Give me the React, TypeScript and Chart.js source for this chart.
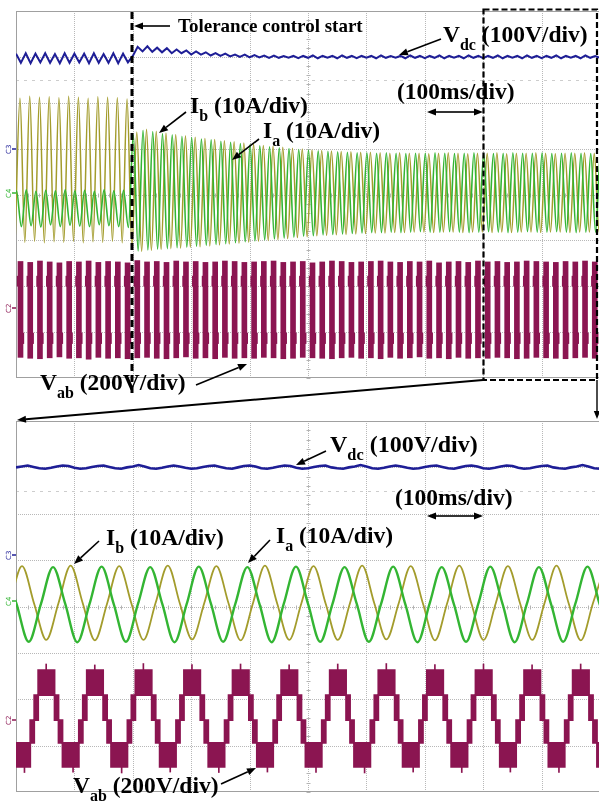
import React, { useEffect, useRef } from 'react';
import { Chart, registerables } from 'chart.js';

Chart.register(...registerables);

// ================= DATA (x in time divisions 0..10, y in vertical divisions -4..4) =================

// ---- top panel (100 ms/div, 60 Hz: half period = 1/12 div) ----
const TOP_HALF_STEP = 1 / 12;
const TOP_PERIOD = 1 / 6;

const VDC_TOP_T0 = 0;
const vdcTop = [
  3.07, 2.87, 3.08, 2.86, 3.07, 2.88, 3.08, 2.87, 3.06, 2.86, 3.08, 2.87,
  3.07, 2.88, 3.07, 2.86, 3.08, 2.87, 3.06, 2.87, 3.08, 2.86, 3.07, 2.88,
  3.02, 3.22, 3.12, 3.23, 3.11, 3.20, 3.10, 3.19, 3.08, 3.16, 3.08, 3.14,
  3.05, 3.12, 3.05, 3.10, 3.03, 3.08, 3.02, 3.07, 3.01, 3.05, 3.00, 3.05,
  2.99, 3.04, 2.99, 3.03, 2.98, 3.03, 2.98, 3.02, 2.98, 3.02, 2.97, 3.02,
  2.98, 3.03, 2.97, 3.02, 2.98, 3.02, 2.97, 3.03, 2.98, 3.02, 2.97, 3.02,
  2.98, 3.02, 2.97, 3.03, 2.98, 3.02, 2.98, 3.02, 2.97, 3.03, 2.98, 3.02,
  2.97, 3.02, 2.98, 3.03, 2.97, 3.02, 2.98, 3.02, 2.97, 3.03, 2.98, 3.02,
  2.97, 3.02, 2.98, 3.03, 2.97, 3.02, 2.98, 3.02, 2.97, 3.03, 2.98, 3.02,
  2.97, 3.02, 2.98, 3.03, 2.97, 3.02, 2.98, 3.02, 2.97, 3.03, 2.98, 3.02,
  2.98,
];

const IB_TOP_T0 = -0.015;
const ibTop = [
  -1.00, 2.10, -1.04, 2.14, -1.02, 2.12, -1.05, 2.13, -1.03, 2.11, -1.04, 2.14,
  -1.02, 2.12, -1.05, 2.10, -1.03, 2.13, -1.04, 2.12, -1.02, 2.11, -1.05, 2.08,
  -1.12, 1.36, -1.24, 1.42, -1.22, 1.38, -1.20, 1.34, -1.18, 1.31, -1.17, 1.28,
  -1.15, 1.25, -1.14, 1.22, -1.12, 1.20, -1.10, 1.17, -1.08, 1.15, -1.06, 1.12,
  -1.04, 1.10, -1.02, 1.07, -1.00, 1.05, -0.98, 1.03, -0.96, 1.01, -0.94, 0.99,
  -0.92, 0.97, -0.90, 0.96, -0.89, 0.95, -0.88, 0.94, -0.87, 0.93, -0.86, 0.92,
  -0.85, 0.92, -0.84, 0.91, -0.84, 0.90, -0.83, 0.91, -0.83, 0.90, -0.82, 0.90,
  -0.82, 0.89, -0.83, 0.90, -0.82, 0.91, -0.82, 0.90, -0.83, 0.89, -0.82, 0.90,
  -0.82, 0.90, -0.83, 0.91, -0.82, 0.89, -0.83, 0.90, -0.82, 0.90, -0.82, 0.91,
  -0.83, 0.90, -0.82, 0.89, -0.82, 0.90, -0.83, 0.90, -0.82, 0.91, -0.82, 0.90,
  -0.82, 0.90,
];

const IA_TOP_T0 = -0.075;
const iaTop = [
  -0.66, 0.08, -0.70, 0.10, -0.68, 0.07, -0.71, 0.09, -0.66, 0.08, -0.70, 0.10,
  -0.67, 0.08, -0.69, 0.09, -0.70, 0.07, -0.66, 0.10, -0.68, 0.08, -0.70, 0.09,
  -0.72, 1.30, -1.23, 1.40, -1.21, 1.37, -1.19, 1.33, -1.18, 1.30, -1.16, 1.27,
  -1.15, 1.24, -1.13, 1.21, -1.11, 1.19, -1.09, 1.16, -1.07, 1.14, -1.05, 1.11,
  -1.03, 1.09, -1.01, 1.06, -0.99, 1.04, -0.97, 1.02, -0.95, 1.00, -0.93, 0.98,
  -0.91, 0.97, -0.90, 0.95, -0.88, 0.94, -0.87, 0.93, -0.86, 0.92, -0.85, 0.91,
  -0.84, 0.91, -0.83, 0.90, -0.83, 0.91, -0.82, 0.90, -0.83, 0.89, -0.82, 0.90,
  -0.81, 0.90, -0.82, 0.91, -0.82, 0.90, -0.81, 0.89, -0.82, 0.90, -0.83, 0.91,
  -0.82, 0.90, -0.81, 0.89, -0.82, 0.90, -0.83, 0.91, -0.82, 0.90, -0.81, 0.90,
  -0.82, 0.91, -0.82, 0.89, -0.81, 0.90, -0.82, 0.91, -0.83, 0.90, -0.82, 0.89,
  -0.82, 0.90, -0.81,
];

const VAB_TOP_X0 = 0.077;
const vabTopHi = [
  -1.46, -1.48, -1.45, -1.47, -1.49, -1.46, -1.47, -1.45, -1.48, -1.46, -1.47, -1.49,
  -1.44, -1.47, -1.46, -1.48, -1.45, -1.47, -1.46, -1.48, -1.47, -1.45, -1.46, -1.48,
  -1.47, -1.46, -1.45, -1.48, -1.47, -1.46, -1.49, -1.47, -1.45, -1.46, -1.48, -1.47,
  -1.46, -1.45, -1.47, -1.48, -1.46, -1.47, -1.45, -1.49, -1.47, -1.46, -1.48, -1.45,
  -1.47, -1.46, -1.48, -1.47, -1.45, -1.46, -1.47, -1.48, -1.46, -1.47, -1.45, -1.47,
];
const vabTopLo = [
  -3.55, -3.57, -3.58, -3.56, -3.54, -3.57, -3.56, -3.59, -3.55, -3.57, -3.56, -3.58,
  -3.56, -3.55, -3.57, -3.58, -3.56, -3.54, -3.57, -3.56, -3.58, -3.55, -3.57, -3.56,
  -3.57, -3.55, -3.56, -3.58, -3.57, -3.55, -3.56, -3.57, -3.58, -3.56, -3.55, -3.57,
  -3.56, -3.58, -3.55, -3.57, -3.56, -3.54, -3.57, -3.56, -3.58, -3.55, -3.57, -3.56,
  -3.57, -3.55, -3.56, -3.58, -3.57, -3.55, -3.56, -3.57, -3.58, -3.56, -3.55, -3.57,
];
// small step blobs seen beside each top-panel V_ab stroke (upper and lower shoulders)
const vabTopShoulderHi = [-1.78, -2.00];
const vabTopShoulderLo = [-3.02, -3.25];

// ---- bottom panel (zoomed, quarter period = 0.208 div) ----
const BOT_QUARTER_STEP = 0.208;

const VDC_BOT_T0 = 0;
const VDC_BOT_STEP = 0.1;
const vdcBot = [
  3.00, 3.02, 3.04, 3.01, 2.98, 2.97, 2.99, 3.02, 3.04, 3.03,
  2.99, 2.97, 2.98, 3.01, 3.03, 3.04, 3.01, 2.98, 2.97, 3.00,
  3.02, 3.05, 3.02, 2.98, 2.97, 2.99, 3.02, 3.04, 3.02, 2.99,
  2.97, 2.98, 3.01, 3.03, 3.04, 3.01, 2.98, 2.97, 3.00, 3.03,
  3.04, 3.02, 2.98, 2.97, 2.99, 3.02, 3.04, 3.03, 2.99, 2.97,
  2.98, 3.01, 3.03, 3.04, 3.00, 2.98, 2.97, 3.00, 3.02, 3.05,
  3.02, 2.98, 2.97, 2.99, 3.02, 3.04, 3.02, 2.99, 2.97, 2.98,
  3.01, 3.03, 3.04, 3.01, 2.98, 2.97, 3.00, 3.03, 3.04, 3.02,
  2.98, 2.97, 2.99, 3.02, 3.04, 3.03, 2.99, 2.97, 2.98, 3.01,
  3.03, 3.04, 3.00, 2.98, 2.97, 3.00, 3.02, 3.05, 3.02, 2.98,
  2.97,
];

const IB_BOT_T0 = -0.105;
const ibBot = [
  0.07, 0.87, 0.06, -0.72, 0.07, 0.88, 0.07, -0.73, 0.06, 0.87, 0.07, -0.72,
  0.08, 0.88, 0.06, -0.71, 0.07, 0.87, 0.07, -0.73, 0.06, 0.88, 0.07, -0.72,
  0.07, 0.87, 0.06, -0.72, 0.07, 0.88, 0.07, -0.71, 0.06, 0.87, 0.07, -0.73,
  0.07, 0.88, 0.06, -0.72, 0.07, 0.87, 0.07, -0.72, 0.06, 0.88, 0.07, -0.73,
  0.07, 0.87,
];

const IA_BOT_T0 = -0.198;
const iaBot = [
  0.86, 0.05, -0.76, 0.05, 0.85, 0.06, -0.77, 0.05, 0.86, 0.05, -0.76, 0.06,
  0.85, 0.05, -0.77, 0.05, 0.86, 0.06, -0.76, 0.05, 0.85, 0.05, -0.77, 0.06,
  0.86, 0.05, -0.76, 0.05, 0.85, 0.06, -0.76, 0.05, 0.86, 0.05, -0.77, 0.06,
  0.85, 0.05, -0.76, 0.05, 0.86, 0.06, -0.77, 0.05, 0.85, 0.05, -0.76, 0.06,
  0.86, 0.05, -0.76,
];

// five-level staircase of V_ab: level values (from -2 to +2 steps)
const vabBotLevels = [-3.46, -2.94, -2.45, -1.91, -1.37];
// start of each positive plateau
const vabBotCycleStarts = [-0.452, 0.38, 1.212, 2.044, 2.876, 3.708, 4.54, 5.372, 6.204, 7.036, 7.868, 8.7, 9.532];
// within one cycle: offsets of each PWM band and which band (between level k and k+1)
const vabBotStepOffsets = [0, 0.28, 0.348, 0.416, 0.696, 0.764];
const vabBotStepBands = [3, 2, 1, 0, 1, 2];
// switching spikes
const vabBotSpikeX = [0.145, 0.517, 0.977, 1.349, 1.809, 2.181, 2.641, 3.013, 3.473, 3.845, 4.305, 4.677, 5.137, 5.509, 5.969, 6.341, 6.801, 7.173, 7.633, 8.005, 8.465, 8.837, 9.297, 9.669];
const vabBotSpikeLo = [-3.58, -1.40, -3.57, -1.40, -3.59, -1.40, -3.57, -1.40, -3.58, -1.40, -3.57, -1.40, -3.58, -1.40, -3.59, -1.40, -3.57, -1.40, -3.58, -1.40, -3.57, -1.40, -3.58, -1.40];
const vabBotSpikeHi = [-3.42, -1.24, -3.42, -1.26, -3.42, -1.23, -3.42, -1.25, -3.42, -1.24, -3.42, -1.26, -3.42, -1.24, -3.42, -1.23, -3.42, -1.25, -3.42, -1.24, -3.42, -1.26, -3.42, -1.24];

const gridX = [0, 1, 2, 3, 4, 5, 6, 7, 8, 9, 10];
const gridY = [-4, -3, -2, -1, 0, 1, 2, 3, 4];
const REF_LEVEL = 2.5;

// ================= COLOURS =================
const C_VDC = '#1e1e96';
const C_IB = '#a39c2c';
const C_IA = '#33b533';
const C_VAB = '#8b1551';
const FONT = "'Liberation Serif', 'Times New Roman', serif";

// ================= helpers =================
const seq = (t0: number, step: number, vals: number[]) => vals.map((v, i) => ({ x: t0 + i * step, y: v }));

const scopeGrid = {
  id: 'scopeGrid',
  beforeDatasetsDraw(chart: any) {
    const { ctx, chartArea: a, scales } = chart;
    const xs = scales.x;
    const ys = scales.y;
    const px = (v: number) => Math.round(xs.getPixelForValue(v)) + 0.5;
    const py = (v: number) => Math.round(ys.getPixelForValue(v)) + 0.5;
    ctx.save();
    ctx.lineWidth = 1;
    ctx.strokeStyle = '#b8b8b8';
    ctx.setLineDash([1, 1]);
    ctx.beginPath();
    gridX.slice(1, -1).forEach((v) => { const X = px(v); ctx.moveTo(X, a.top); ctx.lineTo(X, a.bottom); });
    gridY.slice(1, -1).forEach((v) => { const Y = py(v); ctx.moveTo(a.left, Y); ctx.lineTo(a.right, Y); });
    ctx.stroke();
    ctx.setLineDash([3, 5]);
    ctx.strokeStyle = '#cdcdcd';
    ctx.beginPath();
    const R = py(REF_LEVEL);
    ctx.moveTo(a.left, R); ctx.lineTo(a.right, R);
    ctx.stroke();
    ctx.setLineDash([]);
    ctx.strokeStyle = '#b4b4b4';
    ctx.beginPath();
    const cx = px(5);
    const cy = py(0);
    for (let k = 0; k <= 50; k++) { const X = px(k * 0.2); ctx.moveTo(X, cy - 2); ctx.lineTo(X, cy + 2); }
    for (let k = 0; k <= 40; k++) { const Y = py(-4 + k * 0.2); ctx.moveTo(cx - 2, Y); ctx.lineTo(cx + 2, Y); }
    ctx.stroke();
    ctx.strokeStyle = '#a0a0a0';
    ctx.strokeRect(Math.round(a.left) + 0.5, Math.round(a.top) + 0.5, Math.round(a.right - a.left) - 1, Math.round(a.bottom - a.top) - 1);
    ctx.restore();
  },
};

const baseOptions = () => ({
  responsive: false,
  animation: false as const,
  devicePixelRatio: 1,
  events: [] as any[],
  layout: { padding: { left: 1, top: 1, right: 1, bottom: 2 } },
  plugins: { legend: { display: false }, tooltip: { enabled: false } },
  elements: { point: { radius: 0 } },
  scales: {
    x: { type: 'linear' as const, display: false, min: 0, max: 10, offset: false },
    y: { type: 'linear' as const, display: false, min: -4, max: 4 },
  },
});

function buildTop(): any {
  return {
    type: 'line',
    data: {
      datasets: [
        { label: 'Ia', data: seq(IA_TOP_T0, TOP_HALF_STEP, iaTop), borderColor: C_IA, borderWidth: 1.6, cubicInterpolationMode: 'monotone', pointRadius: 0, fill: false },
        { label: 'Ib', data: seq(IB_TOP_T0, TOP_HALF_STEP, ibTop), borderColor: C_IB, borderWidth: 1.5, cubicInterpolationMode: 'monotone', pointRadius: 0, fill: false },
        { label: 'Vdc', data: seq(VDC_TOP_T0, TOP_HALF_STEP, vdcTop), borderColor: C_VDC, borderWidth: 2, tension: 0, pointRadius: 0, fill: false },
        {
          type: 'bar', label: 'Vab',
          data: vabTopHi.map((h, k) => ({ x: VAB_TOP_X0 + k * TOP_PERIOD, y: [vabTopLo[k], h] })),
          backgroundColor: C_VAB, borderWidth: 0, barThickness: 5, grouped: false,
        },
        {
          type: 'bar', label: 'Vab upper step',
          data: vabTopHi.map((_h, k) => ({ x: VAB_TOP_X0 + k * TOP_PERIOD - 0.04, y: vabTopShoulderHi })),
          backgroundColor: C_VAB, borderWidth: 0, barThickness: 2, grouped: false,
        },
        {
          type: 'bar', label: 'Vab lower step',
          data: vabTopHi.map((_h, k) => ({ x: VAB_TOP_X0 + k * TOP_PERIOD + 0.04, y: vabTopShoulderLo })),
          backgroundColor: C_VAB, borderWidth: 0, barThickness: 2, grouped: false,
        },
      ],
    },
    options: baseOptions(),
    plugins: [scopeGrid],
  };
}

function buildBottom(): any {
  const upper: { x: number; y: number }[] = [];
  const lower: { x: number; y: number }[] = [];
  vabBotCycleStarts.forEach((c) => vabBotStepOffsets.forEach((o, j) => {
    const b = vabBotStepBands[j];
    upper.push({ x: c + o, y: vabBotLevels[b + 1] });
    lower.push({ x: c + o, y: vabBotLevels[b] });
  }));
  upper.push({ x: 10.5, y: upper[upper.length - 1].y });
  lower.push({ x: 10.5, y: lower[lower.length - 1].y });
  return {
    type: 'line',
    data: {
      datasets: [
        { label: 'Ia', data: seq(IA_BOT_T0, BOT_QUARTER_STEP, iaBot), borderColor: C_IA, borderWidth: 2.4, cubicInterpolationMode: 'monotone', pointRadius: 0, fill: false },
        { label: 'Ib', data: seq(IB_BOT_T0, BOT_QUARTER_STEP, ibBot), borderColor: C_IB, borderWidth: 1.8, cubicInterpolationMode: 'monotone', pointRadius: 0, fill: false },
        { label: 'Vdc', data: seq(VDC_BOT_T0, VDC_BOT_STEP, vdcBot), borderColor: C_VDC, borderWidth: 2.6, tension: 0, pointRadius: 0, fill: false },
        { label: 'Vab upper', data: upper, stepped: true, borderColor: C_VAB, borderWidth: 1.8, backgroundColor: C_VAB, fill: '+1', pointRadius: 0 },
        { label: 'Vab lower', data: lower, stepped: true, borderColor: C_VAB, borderWidth: 1.8, fill: false, pointRadius: 0 },
        {
          type: 'bar', label: 'Vab spikes',
          data: vabBotSpikeX.map((x, k) => ({ x, y: [vabBotSpikeLo[k], vabBotSpikeHi[k]] })),
          backgroundColor: C_VAB, borderWidth: 0, barThickness: 1, grouped: false,
        },
      ],
    },
    options: baseOptions(),
    plugins: [scopeGrid],
  };
}

function ScopePanel({ left, top, width, height, build }: any) {
  const ref = useRef<HTMLCanvasElement>(null);
  useEffect(() => {
    const chart = new Chart(ref.current as HTMLCanvasElement, build());
    return () => chart.destroy();
  }, []);
  return (
    <canvas ref={ref} width={width} height={height}
      style={{ position: 'absolute', left, top, width, height, display: 'block' }} />
  );
}

// ================= annotations =================
function Arrow({ x1, y1, x2, y2, w = 1.6, head = 9 }: any) {
  const a = Math.atan2(y2 - y1, x2 - x1);
  const bx = x2 - head * Math.cos(a);
  const by = y2 - head * Math.sin(a);
  const hw = head * 0.4;
  const pts = `${x2},${y2} ${bx + hw * Math.sin(a)},${by - hw * Math.cos(a)} ${bx - hw * Math.sin(a)},${by + hw * Math.cos(a)}`;
  return (
    <g>
      <line x1={x1} y1={y1} x2={bx} y2={by} stroke="#000" strokeWidth={w} />
      <polygon points={pts} fill="#000" />
    </g>
  );
}

function Label({ x, y, main, sub, rest, size = 23.5 }: any) {
  const d = size * 0.32;
  return (
    <text x={x} y={y} fontFamily={FONT} fontWeight="bold" fontSize={size} fill="#000" xmlSpace="preserve">
      {main}
      {sub ? <tspan dy={d} fontSize={size * 0.68}>{sub}</tspan> : null}
      {rest ? <tspan dy={sub ? -d : 0}>{rest}</tspan> : null}
    </text>
  );
}

function ChanMark({ y, text, color }: any) {
  return (
    <g>
      <text transform={`translate(11,${y + 5}) rotate(-90)`} fontFamily="'DejaVu Sans', sans-serif" fontSize={7} fill={color}>{text}</text>
      <line x1={12} y1={y} x2={16} y2={y} stroke={color} strokeWidth={1.5} />
    </g>
  );
}

export default function App() {
  return (
    <div style={{ position: 'absolute', left: 0, top: 0, width: 599, height: 801, overflow: 'hidden', background: '#fff' }}>
      <ScopePanel left={15} top={10} width={586} height={370} build={buildTop} />
      <ScopePanel left={15} top={420} width={586} height={374} build={buildBottom} />
      <svg width={599} height={801} style={{ position: 'absolute', left: 0, top: 0, pointerEvents: 'none' }}>
        {/* channel markers */}
        <ChanMark y={149} text="C3" color={C_VDC} />
        <ChanMark y={193} text="C4" color={C_IA} />
        <ChanMark y={308} text="C2" color={C_VAB} />
        <ChanMark y={555} text="C3" color={C_VDC} />
        <ChanMark y={601} text="C4" color={C_IA} />
        <ChanMark y={720} text="C2" color={C_VAB} />

        {/* top panel annotations */}
        <line x1={132} y1={12} x2={132} y2={393} stroke="#000" strokeWidth={3} strokeDasharray="7 4" />
        <Arrow x1={170} y1={26} x2={134} y2={26} />
        <Label x={178} y={32} size={19} main="Tolerance control start" />
        <Label x={443} y={42} main="V" sub="dc" rest=" (100V/div)" />
        <Arrow x1={441} y1={39} x2={399} y2={55} />
        <Label x={397} y={99} main="(100ms/div)" />
        <Arrow x1={455} y1={112} x2={427} y2={112} />
        <Arrow x1={455} y1={112} x2={483} y2={112} />
        <Label x={190} y={113} main="I" sub="b" rest=" (10A/div)" />
        <Arrow x1={186} y1={112} x2={159} y2={133} />
        <Label x={263} y={138} main="I" sub="a" rest=" (10A/div)" />
        <Arrow x1={259} y1={139} x2={232} y2={160} />
        <Label x={40} y={390} main="V" sub="ab" rest=" (200V/div)" />
        <Arrow x1={196} y1={385} x2={247} y2={364} />

        {/* zoom box and connectors */}
        <rect x={483.5} y={9.5} width={113.5} height={370.5} fill="none" stroke="#000" strokeWidth={2.2} strokeDasharray="6 3" />
        <Arrow x1={483} y1={380} x2={17} y2={420} w={2} />
        <Arrow x1={597} y1={380} x2={597} y2={419} w={1.4} head={8} />

        {/* bottom panel annotations */}
        <Label x={330} y={452} size={24} main="V" sub="dc" rest=" (100V/div)" />
        <Arrow x1={326} y1={451} x2={296} y2={465} />
        <Label x={395} y={505} main="(100ms/div)" />
        <Arrow x1={455} y1={516} x2={427} y2={516} />
        <Arrow x1={455} y1={516} x2={483} y2={516} />
        <Label x={106} y={545} main="I" sub="b" rest=" (10A/div)" />
        <Arrow x1={99} y1={541} x2={74} y2={564} />
        <Label x={276} y={543} main="I" sub="a" rest=" (10A/div)" />
        <Arrow x1={270} y1={540} x2={248} y2={563} />
        <Label x={73} y={793} main="V" sub="ab" rest=" (200V/div)" />
        <Arrow x1={221} y1={784} x2={256} y2={768} />
      </svg>
    </div>
  );
}
